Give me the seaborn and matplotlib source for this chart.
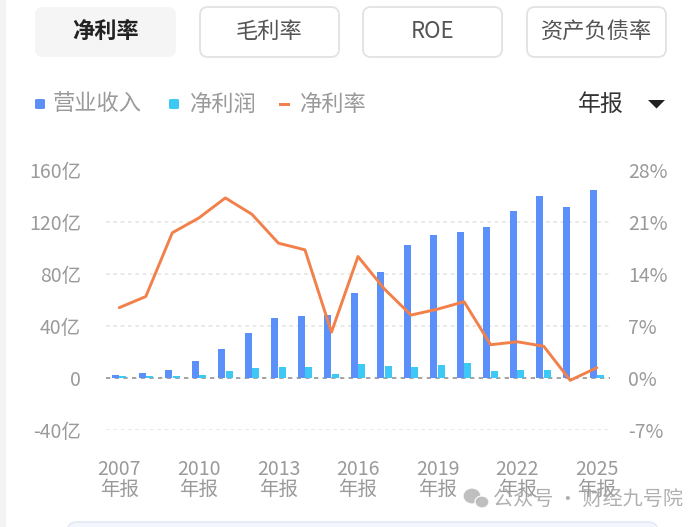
import numpy as np
import pandas as pd
import matplotlib.pyplot as plt
import seaborn as sns
from matplotlib.patches import FancyBboxPatch, Rectangle, Ellipse, Polygon

# -------------------------------
# data
# -------------------------------
years = [str(y) for y in range(2007, 2026)]
revenue = [2.2, 3.7, 6.0, 13.0, 22.2, 34.6, 46.2, 48.0, 48.8, 65.8,
           81.7, 102.3, 110.0, 112.9, 116.5, 128.8, 140.4, 131.7, 144.8]   # 亿
net_profit = [1.5, 1.3, 1.5, 2.7, 5.8, 7.9, 8.6, 8.4, 3.2, 10.9,
              9.7, 8.9, 10.4, 11.7, 5.8, 6.6, 6.3, -0.4, 2.2]              # 亿
net_margin = [9.5, 11.0, 19.6, 21.6, 24.3, 22.1, 18.2, 17.3, 6.2, 16.4,
              12.0, 8.5, 9.3, 10.3, 4.5, 4.9, 4.3, -0.3, 1.4]              # %

left_ticks = [-40, 0, 40, 80, 120, 160]
right_ticks = [-7, 0, 7, 14, 21, 28]
tabs = ["净利率", "毛利率", "ROE", "资产负债率"]

BLUE = "#5B8FF9"
CYAN = "#3DC8F5"
ORANGE = "#F2804A"
GREY = "#9a9a9a"

df = pd.DataFrame({
    "year": years * 2,
    "value": revenue + net_profit,
    "series": ["营业收入"] * len(years) + ["净利润"] * len(years),
})

sns.set_style("white")
plt.rcParams["font.family"] = ["Noto Sans CJK SC", "DejaVu Sans"]

W, H = 693, 527
fig = plt.figure(figsize=(W / 100, H / 100), dpi=100)

# main chart area (pixel box 106..610 x 170.5..430)
ax = fig.add_axes([106 / W, 1 - 430 / H, 504 / W, 259.5 / H])

sns.barplot(data=df, x="year", y="value", hue="series", order=years,
            palette=[BLUE, CYAN], saturation=1, width=0.56, gap=0.06,
            linewidth=0, legend=False, ax=ax, zorder=2)

ax.set_ylim(-40, 160)
ax.set_yticks(left_ticks)
ax.set_yticklabels(["0" if v == 0 else f"{v}亿" for v in left_ticks])
for v in left_ticks:
    if v == 0:
        ax.axhline(v, color="#9c9c9c", ls=(0, (2.4, 2.4)), lw=1.3, zorder=1)
    else:
        ax.axhline(v, color="#e3e3e3", ls=(0, (2.4, 2.4)), lw=1.1, zorder=0)

ax.set_xlabel("")
ax.set_ylabel("")
xt = list(range(0, len(years), 3))
ax.set_xticks(xt)
ax.set_xticklabels([f"{years[i]}\n年报" for i in xt])
for lab in ax.get_xticklabels():
    lab.set_linespacing(0.95)
ax.tick_params(axis="x", length=0, pad=21, labelsize=14, colors=GREY)
ax.tick_params(axis="y", length=0, pad=18, labelsize=14, colors=GREY)

# net margin line on the right axis
ax2 = ax.twinx()
sns.lineplot(x=np.arange(len(years)), y=net_margin, ax=ax2,
             color=ORANGE, linewidth=2.1)
ax2.set_ylim(-7, 28)
ax2.set_yticks(right_ticks)
ax2.set_yticklabels([f"{v}%" for v in right_ticks])
ax2.tick_params(axis="y", length=0, pad=13, labelsize=14, colors=GREY)
ax2.set_ylabel("")
ax.set_xlim(-0.5, len(years) - 0.5)

for a in (ax, ax2):
    for s in a.spines.values():
        s.set_visible(False)

# -------------------------------
# page decorations in pixel coordinates
# -------------------------------
ov = fig.add_axes([0, 0, 1, 1], zorder=5)
ov.set_xlim(0, W)
ov.set_ylim(H, 0)
ov.axis("off")

ov.add_patch(Rectangle((0, 0), 6, H, color="#f3f3f3", lw=0))

btn_x = [(35, 176), (200, 339), (363, 502), (527, 666)]
for i, (name, (x0, x1)) in enumerate(zip(tabs, btn_x)):
    if i == 0:
        box = FancyBboxPatch((x0, 7), x1 - x0, 50, boxstyle="round,pad=0,rounding_size=8",
                             fc="#f5f5f5", ec="none")
        ov.add_patch(box)
        ov.text((x0 + x1) / 2, 31, name, ha="center", va="center",
                fontsize=16, fontweight="bold", color="#222222")
    else:
        box = FancyBboxPatch((x0, 7), x1 - x0, 50, boxstyle="round,pad=0,rounding_size=8",
                             fc="white", ec="#e2e2e2", lw=1.3)
        ov.add_patch(box)
        ov.text((x0 + x1) / 2, 31, name, ha="center", va="center",
                fontsize=16, color="#555555")

# legend row
ov.add_patch(FancyBboxPatch((35, 99), 10, 10, boxstyle="round,pad=0,rounding_size=1.5",
                            fc=BLUE, ec="none"))
ov.text(53, 104, "营业收入", ha="left", va="center", fontsize=16, color=GREY)
ov.add_patch(FancyBboxPatch((169, 99), 10, 10, boxstyle="round,pad=0,rounding_size=1.5",
                            fc=CYAN, ec="none"))
ov.text(190, 104, "净利润", ha="left", va="center", fontsize=16, color=GREY)
ov.add_patch(Rectangle((279, 102.5), 11, 3.2, color=ORANGE, lw=0))
ov.text(300, 104, "净利率", ha="left", va="center", fontsize=16, color=GREY)

ov.text(578, 104, "年报", ha="left", va="center", fontsize=16.5, color="#333333")
ov.add_patch(Polygon([(648, 100), (665, 100), (656.5, 108.5)], closed=True,
                     fc="#222222", ec="none"))

# watermark (overlaps the last tick labels, as in the screenshot)
ov.add_patch(Ellipse((472, 496), 18, 16, fc="#b8b8b8", ec="white", lw=1, alpha=0.9))
ov.add_patch(Ellipse((482, 502), 14, 12, fc="#b8b8b8", ec="white", lw=1, alpha=0.9))
ov.text(493, 499, "公众号 · 财经九号院", ha="left", va="center",
        fontsize=14.5, color="#a8a8a8", alpha=0.9)

# bottom strip of the next card
ov.add_patch(FancyBboxPatch((67, 522), 591, 20, boxstyle="round,pad=0,rounding_size=10",
                            fc="#f3f6fd", ec="#dfe6f5", lw=1))

fig.savefig("out.png", dpi=100)
